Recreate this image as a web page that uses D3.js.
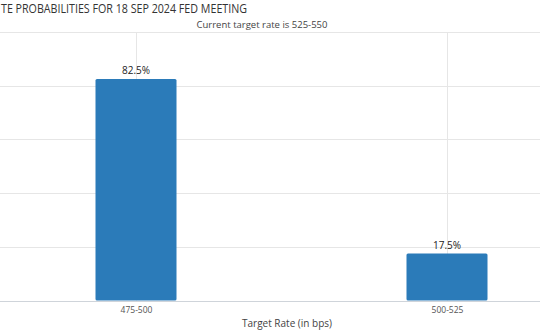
<!DOCTYPE html>
<html><head><meta charset="utf-8">
<script src="https://cdn.jsdelivr.net/npm/d3@7"></script>
<style>html,body{margin:0;padding:0;background:#fff;overflow:hidden}svg{display:block;font-family:"Open Sans","DejaVu Sans",sans-serif}</style>
</head><body>
<svg id="c" width="540" height="336"></svg>
<script>
const categories = ["475-500", "500-525"];
const probabilities = [82.5, 17.5];
const yTicks = [0, 20, 40, 60, 80, 100];
const titleText = "TE PROBABILITIES FOR 18 SEP 2024 FED MEETING";
const subtitleText = "Current target rate is 525-550";
const xAxisTitle = "Target Rate (in bps)";

const svg = d3.select("#c");
const plotTop = 32, plotBottom = 300.5;
const x = d3.scalePoint().domain(categories).range([-19.5, 602.5]).padding(0.5);
const y = d3.scaleLinear().domain([0, 100]).range([plotBottom, plotTop]);
const barW = 81;

// horizontal grid
svg.append("g").selectAll("line").data(yTicks.filter(d => d > 0)).join("line")
  .attr("x1", 0).attr("x2", 540)
  .attr("y1", d => Math.round(y(d)) + 0.5).attr("y2", d => Math.round(y(d)) + 0.5)
  .attr("stroke", "#e6e6e6").attr("stroke-width", 1);
// vertical grid at categories
svg.append("g").selectAll("line").data(categories).join("line")
  .attr("x1", d => Math.round(x(d)) + 0.5).attr("x2", d => Math.round(x(d)) + 0.5)
  .attr("y1", plotTop).attr("y2", plotBottom)
  .attr("stroke", "#e6e6e6").attr("stroke-width", 1);

// bars
svg.append("g").selectAll("rect").data(categories).join("rect")
  .attr("x", d => x(d) - barW / 2)
  .attr("y", (d, i) => y(probabilities[i]))
  .attr("width", barW)
  .attr("height", (d, i) => plotBottom - y(probabilities[i]))
  .attr("rx", 1.5)
  .attr("fill", "#2b7bb9");

// baseline
svg.append("line").attr("x1", 0).attr("x2", 540)
  .attr("y1", Math.round(plotBottom) + 0.5).attr("y2", Math.round(plotBottom) + 0.5)
  .attr("stroke", "#cfd4da").attr("stroke-width", 1);

// data labels
svg.append("g").selectAll("text").data(categories).join("text")
  .attr("x", d => x(d))
  .attr("y", (d, i) => y(probabilities[i]) - 5)
  .attr("text-anchor", "middle").attr("font-size", 10).attr("fill", "#222")
  .text((d, i) => probabilities[i].toFixed(1) + "%");

// x axis
const xAxis = d3.axisBottom(x).tickSize(0).tickPadding(6);
const gx = svg.append("g").attr("transform", `translate(0,${plotBottom})`).call(xAxis);
gx.select(".domain").remove();
gx.selectAll("text").attr("font-size", 8.5).attr("fill", "#555").attr("font-family", "'Open Sans','DejaVu Sans',sans-serif");

// axis title
svg.append("text").attr("x", 287).attr("y", 327).attr("text-anchor", "middle")
  .attr("font-size", 10).attr("fill", "#444").text(xAxisTitle);

// title
svg.append("text").attr("x", 1).attr("y", 13)
  .attr("font-size", 12.5).attr("fill", "#333")
  .attr("textLength", 246).attr("lengthAdjust", "spacingAndGlyphs")
  .text(titleText);
// subtitle
svg.append("text").attr("x", 262).attr("y", 28).attr("text-anchor", "middle")
  .attr("font-size", 9.5).attr("fill", "#444").text(subtitleText);
</script>
</body></html>
